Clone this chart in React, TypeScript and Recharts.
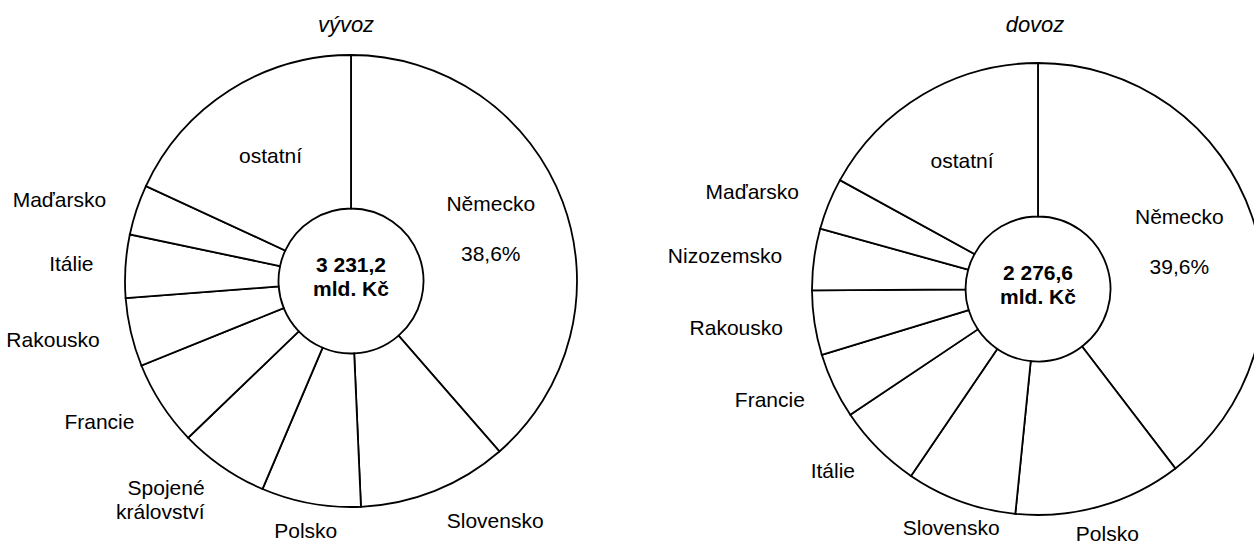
// Two donut charts: Czech foreign trade by country (vývoz / dovoz)

import React from 'react';
import { PieChart, Pie, Cell } from 'recharts';

const exportCountries = ['Německo', 'Slovensko', 'Polsko', 'Spojené království', 'Francie', 'Rakousko', 'Itálie', 'Maďarsko', 'ostatní'];
const exportShares = [38.6, 10.7, 7.1, 6.4, 6.1, 4.9, 4.5, 3.6, 18.1];

const importCountries = ['Německo', 'Polsko', 'Slovensko', 'Itálie', 'Francie', 'Rakousko', 'Nizozemsko', 'Maďarsko', 'ostatní'];
const importShares = [39.6, 12.0, 7.9, 6.1, 4.7, 4.6, 4.4, 3.7, 17.0];

const totals = ['3 231,2', '2 276,6'];
const totalUnit = 'mld. Kč';
const titles = ['vývoz', 'dovoz'];

const FONT = '"Liberation Sans", Arial, sans-serif';
const RAD = Math.PI / 180;

const exportData = exportCountries.map((name, i) => ({ name, value: exportShares[i] }));
const importData = importCountries.map((name, i) => ({ name, value: importShares[i] }));

const fmtPct = (v: number) => v.toFixed(1).replace('.', ',') + '%';

const makeLabel = (total: string) => (props: any) => {
  const { cx, cy, midAngle, innerRadius, outerRadius, name, value, index } = props;
  const sx = Math.cos(-midAngle * RAD);
  const sy = Math.sin(-midAngle * RAD);
  const parts: React.ReactNode[] = [];

  // total in the hole, drawn once per pie
  if (index === 0) {
    parts.push(
      <text key="t1" x={cx} y={cy - 9} textAnchor="middle" fontFamily={FONT} fontSize={21} fontWeight="bold" fill="#000">{total}</text>,
      <text key="t2" x={cx} y={cy + 15} textAnchor="middle" fontFamily={FONT} fontSize={21} fontWeight="bold" fill="#000">{totalUnit}</text>
    );
  }

  if (value > 15) {
    const r = (innerRadius + outerRadius) / 2;
    const x = cx + r * sx;
    const y = cy + r * sy;
    const lines = index === 0 ? [name, fmtPct(value)] : [name];
    lines.forEach((ln: string, i: number) => {
      parts.push(
        <text key={'in' + i} x={x} y={y + (i - (lines.length - 1) / 2) * 50} textAnchor="middle" dominantBaseline="central" fontFamily={FONT} fontSize={21} fill="#000">{ln}</text>
      );
    });
  } else {
    const anchor = Math.abs(sx) < 0.35 ? 'middle' : sx > 0 ? 'start' : 'end';
    const r = outerRadius + (anchor === 'middle' ? 28 : 32);
    const x = cx + r * sx;
    const y = cy + r * sy;
    const lines = name.split(' ');
    lines.forEach((ln: string, i: number) => {
      parts.push(
        <text key={'out' + i} x={x} y={y + (i - (lines.length - 1) / 2) * 24 + (lines.length > 1 ? 6 : 0)} textAnchor={anchor} dominantBaseline="central" fontFamily={FONT} fontSize={21} fill="#000">{ln}</text>
      );
    });
  }
  return <g>{parts}</g>;
};

export default function App() {
  return (
    <div style={{ position: 'absolute', left: 0, top: 0, width: 1254, height: 546, background: '#fff', overflow: 'hidden' }}>
      <PieChart width={1254} height={546} margin={{ top: 0, right: 0, bottom: 0, left: 0 }}>
        <text x={346} y={24} textAnchor="middle" dominantBaseline="central" fontFamily={FONT} fontSize={22} fontStyle="italic" fill="#000">{titles[0]}</text>
        <text x={1035} y={24} textAnchor="middle" dominantBaseline="central" fontFamily={FONT} fontSize={22} fontStyle="italic" fill="#000">{titles[1]}</text>
        <Pie
          data={exportData}
          dataKey="value"
          nameKey="name"
          cx={351}
          cy={281}
          innerRadius={72.5}
          outerRadius={226}
          startAngle={90}
          endAngle={-270}
          stroke="#000"
          strokeWidth={1.8}
          label={makeLabel(totals[0])}
          labelLine={false}
          isAnimationActive={false}
        >
          {exportData.map((d) => <Cell key={d.name} fill="#fff" />)}
        </Pie>
        <Pie
          data={importData}
          dataKey="value"
          nameKey="name"
          cx={1038}
          cy={289}
          innerRadius={72.5}
          outerRadius={226}
          startAngle={90}
          endAngle={-270}
          stroke="#000"
          strokeWidth={1.8}
          label={makeLabel(totals[1])}
          labelLine={false}
          isAnimationActive={false}
        >
          {importData.map((d) => <Cell key={d.name} fill="#fff" />)}
        </Pie>
      </PieChart>
    </div>
  );
}
